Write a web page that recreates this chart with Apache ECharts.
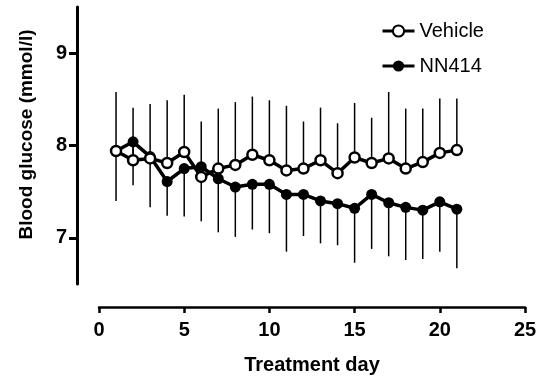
<!DOCTYPE html>
<html>
<head>
<meta charset="utf-8">
<script src="https://cdn.jsdelivr.net/npm/echarts@6/dist/echarts.min.js"></script>
<style>
  html, body { margin: 0; padding: 0; background: #fff; }
  #chart { width: 545px; height: 380px; }
</style>
</head>
<body>
<div id="chart"></div>
<script>
const days = [1, 2, 3, 4, 5, 6, 7, 8, 9, 10, 11, 12, 13, 14, 15, 16, 17, 18, 19, 20, 21];
const vehicleMean = [7.94, 7.84, 7.86, 7.81, 7.93, 7.66, 7.75, 7.79, 7.90, 7.84, 7.73, 7.75, 7.84, 7.70, 7.87, 7.81, 7.86, 7.75, 7.82, 7.92, 7.95];
const vehicleUpper = [8.58, 8.41, 8.45, 8.49, 8.55, 8.26, 8.40, 8.47, 8.53, 8.49, 8.43, 8.26, 8.41, 8.24, 8.46, 8.30, 8.58, 8.40, 8.40, 8.51, 8.51];
const nn414Mean = [7.94, 8.04, 7.88, 7.61, 7.75, 7.77, 7.64, 7.55, 7.58, 7.58, 7.47, 7.47, 7.40, 7.37, 7.32, 7.47, 7.38, 7.33, 7.30, 7.39, 7.31];
const nn414Lower = [7.40, 7.57, 7.33, 7.24, 7.23, 7.18, 7.06, 7.01, 7.09, 7.05, 6.85, 7.02, 6.94, 6.92, 6.73, 6.88, 6.80, 6.76, 6.77, 6.85, 6.67];
const yMin = 6.5, yMax = 9.5;
const yTicks = [7, 8, 9];

const font = "'Liberation Sans', Arial, sans-serif";

// one-sided SD bars: up for vehicle, down for NN414
const errorBar = (mean, bound) => ({
  type: "custom",
  z: 1,
  silent: true,
  data: days.map((d, i) => [d, mean[i], bound[i]]),
  renderItem: (params, api) => {
    const p0 = api.coord([api.value(0), api.value(1)]);
    const p1 = api.coord([api.value(0), api.value(2)]);
    return {
      type: "line",
      shape: { x1: p0[0], y1: p0[1], x2: p1[0], y2: p1[1] },
      style: { stroke: "#000", lineWidth: 1.5 },
    };
  },
});

const chart = echarts.init(document.getElementById("chart"), null, { renderer: "canvas" });

chart.setOption({
  animation: false,
  backgroundColor: "#fff",
  textStyle: { fontFamily: font, color: "#000" },
  grid: { left: 99, right: 20, top: 7, bottom: 95 },
  legend: {
    data: ["Vehicle", "NN414"],
    orient: "vertical",
    left: 376,
    top: 16,
    itemWidth: 32,
    itemHeight: 14,
    itemGap: 15,
    lineStyle: { width: 3 },
    textStyle: { fontFamily: font, fontSize: 20, lineHeight: 20, color: "#000" },
  },
  xAxis: {
    type: "value",
    min: 0,
    max: 25,
    interval: 5,
    offset: 23,
    name: "Treatment day",
    nameLocation: "middle",
    nameGap: 48,
    nameTextStyle: { fontFamily: font, fontSize: 20, fontWeight: "bold", color: "#000" },
    splitLine: { show: false },
    axisLine: { onZero: false, lineStyle: { color: "#000", width: 2.5 } },
    axisTick: { length: 6, lineStyle: { color: "#000", width: 2.5 } },
    axisLabel: { margin: 13, fontFamily: font, fontSize: 20, fontWeight: "bold", color: "#000" },
  },
  yAxis: {
    type: "value",
    min: yMin,
    max: yMax,
    offset: 22,
    name: "Blood glucose (mmol/l)",
    nameLocation: "middle",
    nameGap: 41,
    nameTextStyle: { fontFamily: font, fontSize: 19, fontWeight: "bold", color: "#000", padding: [0, 0, 0, 22] },
    splitLine: { show: false },
    axisLine: { show: true, onZero: false, lineStyle: { color: "#000", width: 3 } },
    axisTick: { show: true, length: 8, customValues: yTicks, lineStyle: { color: "#000", width: 3 } },
    axisLabel: { margin: 10, customValues: yTicks, fontFamily: font, fontSize: 20, fontWeight: "bold", color: "#000" },
  },
  series: [
    errorBar(vehicleMean, vehicleUpper),
    errorBar(nn414Mean, nn414Lower),
    {
      name: "NN414",
      type: "line",
      z: 2,
      data: days.map((d, i) => [d, nn414Mean[i]]),
      symbol: "circle",
      symbolSize: 11,
      itemStyle: { color: "#000" },
      lineStyle: { color: "#000", width: 3.5 },
    },
    {
      name: "Vehicle",
      type: "line",
      z: 3,
      data: days.map((d, i) => [d, vehicleMean[i]]),
      symbol: "circle",
      symbolSize: 10,
      itemStyle: { color: "#fff", borderColor: "#000", borderWidth: 2.5 },
      lineStyle: { color: "#000", width: 3.5 },
    },
  ],
});
</script>
</body>
</html>
